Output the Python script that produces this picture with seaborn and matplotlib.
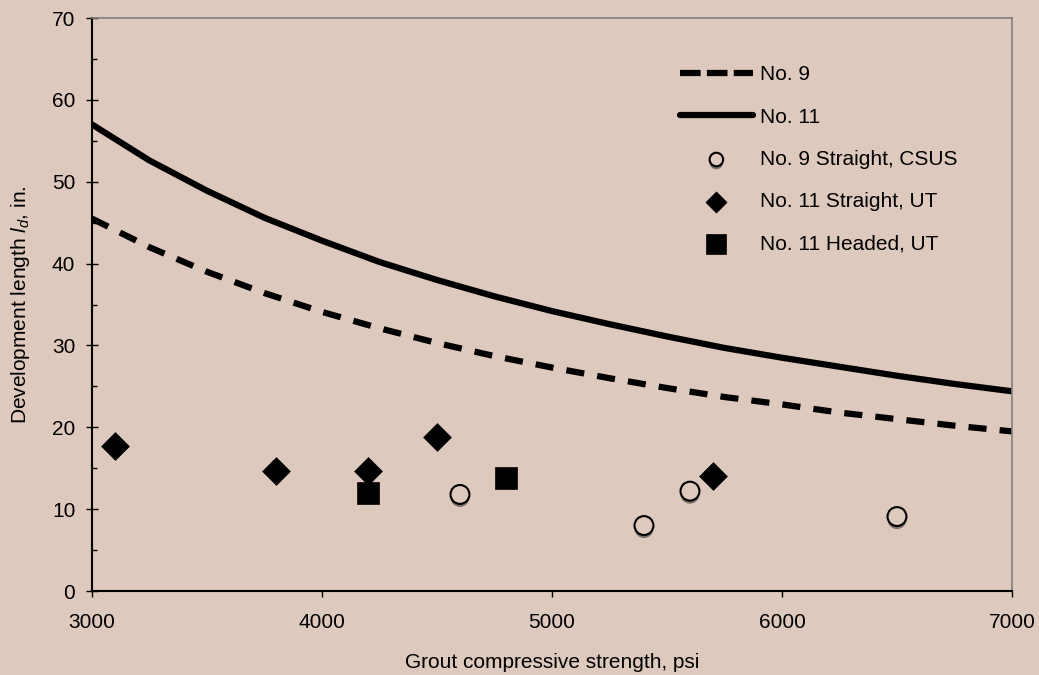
import matplotlib

matplotlib.use("Agg")
import matplotlib.patheffects as pe
import matplotlib.pyplot as plt
import numpy as np
import pandas as pd
import seaborn as sns
from matplotlib.ticker import MultipleLocator

# Design curves (every 250 psi)
strength_psi = [3000, 3250, 3500, 3750, 4000, 4250, 4500, 4750, 5000,
                5250, 5500, 5750, 6000, 6250, 6500, 6750, 7000]
ld_no9 = [45.5, 42.0, 39.0, 36.4, 34.1, 32.1, 30.3, 28.7, 27.3,
          26.0, 24.8, 23.7, 22.8, 21.8, 21.0, 20.2, 19.5]
ld_no11 = [57.0, 52.6, 48.9, 45.6, 42.8, 40.2, 38.0, 36.0, 34.2,
           32.6, 31.1, 29.7, 28.5, 27.4, 26.3, 25.3, 24.4]

# Test results
csus_no9_x = [4600, 5400, 5600, 6500]
csus_no9_y = [11.8, 8.0, 12.2, 9.1]
ut_straight_x = [3100, 3800, 4200, 4500, 5700]
ut_straight_y = [17.7, 14.7, 14.7, 18.8, 14.0]
ut_headed_x = [4200, 4800]
ut_headed_y = [12.0, 13.8]

BG = "#ddc9bd"
FS = 15

sns.set_theme(style="ticks")
plt.rcParams["font.family"] = ["Liberation Sans", "DejaVu Sans"]
plt.rcParams["mathtext.fontset"] = "custom"
plt.rcParams["mathtext.rm"] = "Liberation Sans"
plt.rcParams["mathtext.it"] = "Liberation Sans:italic"

curves = pd.DataFrame({"f": strength_psi, "no9": ld_no9, "no11": ld_no11})

fig = plt.figure(figsize=(10.39, 6.75), dpi=100, facecolor=BG)
ax = fig.add_axes([0.0885, 0.1244, 0.8855, 0.8489])
ax.set_facecolor(BG)

sns.lineplot(data=curves, x="f", y="no9", ax=ax, color="black", linewidth=4.5,
             linestyle=(0, (2.9, 2.1)), label="No. 9")
sns.lineplot(data=curves, x="f", y="no11", ax=ax, color="black", linewidth=4.5,
             label="No. 11")

shadow = [pe.SimplePatchShadow(offset=(0, -2.2), shadow_rgbFace="#6e6460", alpha=0.9),
          pe.Normal()]
sns.scatterplot(x=csus_no9_x, y=csus_no9_y, ax=ax, marker="o", s=185,
                facecolor=BG, edgecolor="black", linewidth=1.5,
                label="No. 9 Straight, CSUS", path_effects=shadow, zorder=4)
sns.scatterplot(x=ut_straight_x, y=ut_straight_y, ax=ax, marker="D", s=200,
                color="black", edgecolor="black", linewidth=0.5,
                label="No. 11 Straight, UT", zorder=4)
sns.scatterplot(x=ut_headed_x, y=ut_headed_y, ax=ax, marker="s", s=270,
                color="black", edgecolor="black", linewidth=0.5,
                label="No. 11 Headed, UT", zorder=4)

ax.set_xlim(3000, 7000)
ax.set_ylim(0, 70)
ax.xaxis.set_major_locator(MultipleLocator(1000))
ax.yaxis.set_major_locator(MultipleLocator(10))
ax.yaxis.set_minor_locator(MultipleLocator(5))
ax.tick_params(axis="x", which="major", direction="out", length=4.5, width=1,
               color="black", labelsize=FS, labelcolor="black", pad=11)
ax.tick_params(axis="y", which="major", direction="inout", length=8, width=1,
               color="black", labelsize=FS, labelcolor="black", pad=8)
ax.tick_params(axis="y", which="minor", direction="in", length=3.6, width=1, color="black")

for side in ["top", "right"]:
    ax.spines[side].set_visible(True)
    ax.spines[side].set_color("#7f7f7f")
    ax.spines[side].set_linewidth(1.2)
for side in ["left", "bottom"]:
    ax.spines[side].set_color("black")
    ax.spines[side].set_linewidth(1.5)

ax.set_xlabel("Grout compressive strength, psi", fontsize=FS, color="black")
ax.set_ylabel(r"Development length $l_d$, in.", fontsize=FS, color="black")
ax.xaxis.set_label_coords(0.5, -0.1085)
ax.yaxis.set_label_coords(-0.0655, 0.5)

leg = ax.legend(loc="upper left", bbox_to_anchor=(0.630, 0.932), frameon=False,
                fontsize=FS, handlelength=3.5, handletextpad=0.33,
                labelspacing=1.12, borderaxespad=0)
for text in leg.get_texts():
    text.set_color("black")
handles = leg.legend_handles
handles[0].set_dashes((3.3, 1.0))
handles[2].set_sizes([95])
handles[3].set_sizes([115])
handles[4].set_sizes([200])

fig.savefig("out.png", dpi=100, facecolor=BG)
